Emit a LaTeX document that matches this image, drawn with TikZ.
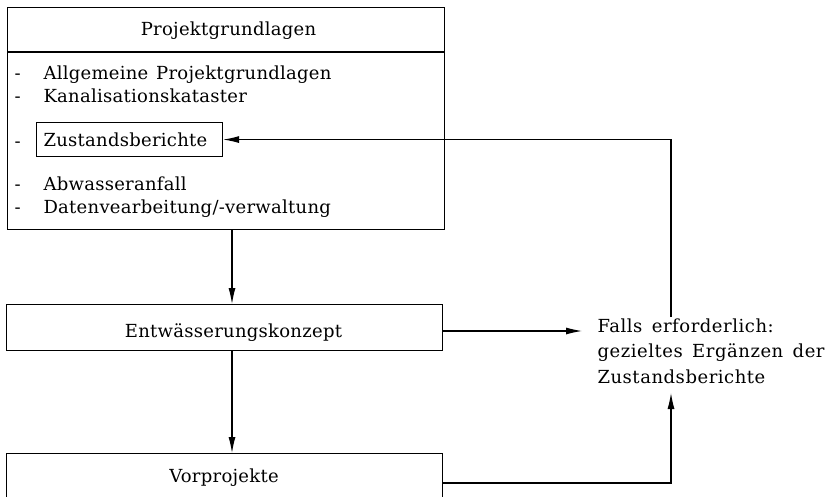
\documentclass[tikz,border=0pt]{standalone}
\usepackage{fontspec}
\setmainfont{DejaVu Serif}[WordSpace=1.3, LetterSpace=1.5]
\newfontfamily\notefont{DejaVu Serif}[WordSpace=1.5, LetterSpace=3]
\usetikzlibrary{arrows.meta}
\begin{document}
\begin{tikzpicture}[x=1pt,y=-1pt,
  line width=1.1pt,
  txt/.style={font=\fontsize{18}{25.5}\selectfont, inner sep=0pt},
  note/.style={font=\notefont\fontsize{18}{25.5}\selectfont, inner sep=0pt},
  frame/.style={draw, line width=1.1pt, inner sep=0pt},
  flow/.style={-{Latex[length=16pt,width=7pt]}, line width=1.1pt},
  link/.style={line width=1.1pt},
]
\useasboundingbox[fill=white] (0,0) rectangle (836,496);

% --- project basis block with header
\node[frame, anchor=north west, minimum width=437pt, minimum height=222pt] (grund) at (7,7) {};
\draw[link] ([yshift=-45pt]grund.north west) -- ([yshift=-45pt]grund.north east);
\node[txt, anchor=base] (kopf) at (228.5,35) {Projektgrundlagen};

% list of basis items
\node[txt, anchor=base west] (d1) at (14,79) {-};
\node[txt, anchor=base west] (i1) at (43,79) {Allgemeine Projektgrundlagen};
\node[txt, anchor=base west] (d2) at (14,102) {-};
\node[txt, anchor=base west] (i2) at (43,102) {Kanalisationskataster};
\node[txt, anchor=base west] (d3) at (14,147) {-};
\node[frame, txt, anchor=north west, minimum width=186pt, minimum height=34pt,
      text width=172pt, inner xsep=7pt, inner ysep=0pt, align=left] (zb) at (36,122)
      {Zustandsberichte};
\node[txt, anchor=base west] (d4) at (14,190) {-};
\node[txt, anchor=base west] (i4) at (43,190) {Abwasseranfall};
\node[txt, anchor=base west] (d5) at (14,213) {-};
\node[txt, anchor=base west] (i5) at (43,213) {Datenvearbeitung/-verwaltung};

% --- drainage concept
\node[frame, anchor=north west, minimum width=436pt, minimum height=46pt] (ek) at (6,304) {};
\node[txt, anchor=base] (ektxt) at (233.5,337) {Entwässerungskonzept};

% --- preliminary projects (continues below the visible area)
\node[frame, anchor=north west, minimum width=436pt, minimum height=70pt] (vp) at (6,453) {};
\node[txt, anchor=base] (vptxt) at (224,482) {Vorprojekte};

% --- note on the right (base anchor sits on the last line)
\node[note, anchor=base west, align=left] (falls) at (597,383)
  {Falls erforderlich:\\gezieltes Ergänzen der\\Zustandsberichte};

% routing helpers
\coordinate (achse) at (232,0);
\coordinate (rueck) at (671,0);
\coordinate (rtop) at (671,317);
\coordinate (rbot) at (671,393);
\coordinate (mid) at (0,331);
\coordinate (low) at (0,483);

% --- connectors
\draw[flow] (grund.south -| achse) -- (ek.north -| achse);
\draw[flow] (ek.south -| achse) -- (vp.north -| achse);
\draw[flow] (ek.east |- mid) -- (582,331);
\draw[flow] (rtop) -- (rueck |- zb.east) -- (zb.east);
\draw[flow] (vp.east |- low) -- (rueck |- low) -- (rbot);
\end{tikzpicture}
\end{document}
